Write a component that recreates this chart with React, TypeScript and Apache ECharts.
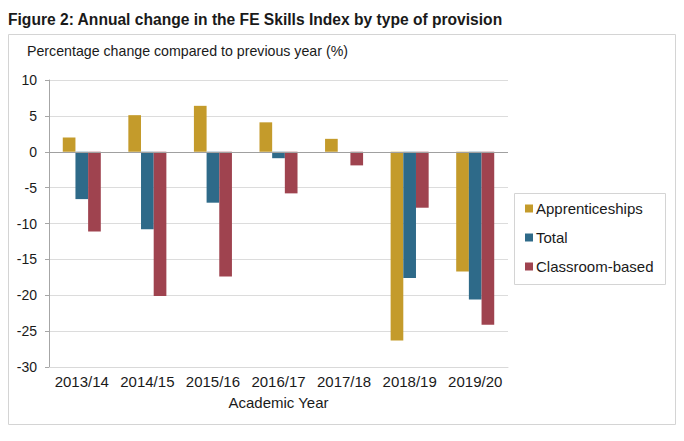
import React, { useEffect, useRef } from "react";
import * as echarts from "echarts";

const categories = ["2013/14", "2014/15", "2015/16", "2016/17", "2017/18", "2018/19", "2019/20"];
const apprenticeships = [2.0, 5.1, 6.4, 4.1, 1.8, -26.3, -16.7];
const total = [-6.6, -10.8, -7.1, -0.9, 0, -17.6, -20.6];
const classroom = [-11.1, -20.1, -17.4, -5.8, -1.9, -7.8, -24.1];
const yTicks = { min: -30, max: 10, interval: 5 };

const FONT = "'Liberation Sans', Arial, sans-serif";
const TEXT = "#1a1a1a";

export default function App() {
  const ref = useRef<HTMLDivElement>(null);
  useEffect(() => {
    if (!ref.current) return;
    const chart = echarts.init(ref.current, undefined, { renderer: "svg" });
    const barStyle = (color: string) => ({
      type: "bar" as const,
      barGap: "0%",
      barCategoryGap: "42%",
      itemStyle: { color },
    });
    chart.setOption({
      animation: false,
      backgroundColor: "#ffffff",
      textStyle: { fontFamily: FONT, color: TEXT },
      title: {
        text: "Figure 2: Annual change in the FE Skills Index by type of provision",
        left: 8,
        top: 11,
        padding: 0,
        textStyle: { fontFamily: FONT, fontSize: 15.6, fontWeight: "bold", color: TEXT },
      },
      graphic: [
        {
          type: "rect",
          shape: { x: 8.5, y: 34.5, width: 667, height: 390 },
          style: { fill: "none", stroke: "#d4d4d4", lineWidth: 1 },
          silent: true,
        },
        {
          type: "rect",
          shape: { x: 514.5, y: 193.5, width: 151, height: 91 },
          style: { fill: "none", stroke: "#d4d4d4", lineWidth: 1 },
          silent: true,
        },
        {
          type: "text",
          left: 27,
          top: 44,
          style: {
            text: "Percentage change compared to previous year (%)",
            fontFamily: FONT,
            fontSize: 14.2,
            fill: TEXT,
          },
          silent: true,
        },
      ],
      legend: {
        orient: "vertical",
        left: 525,
        top: 201,
        padding: 0,
        itemWidth: 8,
        itemHeight: 8,
        itemGap: 14,
        icon: "rect",
        textStyle: { fontFamily: FONT, fontSize: 15, color: TEXT, padding: [0, 0, 0, -2] },
        data: ["Apprenticeships", "Total", "Classroom-based"],
      },
      grid: { left: 49, right: 176, top: 80, bottom: 74, containLabel: false },
      xAxis: {
        type: "category",
        data: categories,
        name: "Academic Year",
        nameLocation: "middle",
        nameGap: 28,
        nameTextStyle: { fontFamily: FONT, fontSize: 15, color: TEXT },
        axisLine: { onZero: false, lineStyle: { color: "#d9d9d9" } },
        axisTick: { show: false },
        axisLabel: { interval: 0, fontFamily: FONT, fontSize: 15, color: TEXT, margin: 7 },
      },
      yAxis: {
        type: "value",
        min: yTicks.min,
        max: yTicks.max,
        interval: yTicks.interval,
        axisLine: { show: true, lineStyle: { color: "#a6a6a6" } },
        axisTick: { show: true, length: 4, lineStyle: { color: "#a6a6a6" } },
        axisLabel: { fontFamily: FONT, fontSize: 14, color: TEXT, margin: 12 },
        splitLine: { lineStyle: { color: "#dcdcdc" } },
      },
      series: [
        {
          ...barStyle("#c49b2b"),
          name: "Apprenticeships",
          data: apprenticeships,
          markLine: {
            silent: true,
            symbol: "none",
            label: { show: false },
            lineStyle: { color: "#a0a0a0", type: "solid", width: 1 },
            data: [{ yAxis: 0 }],
          },
        },
        { ...barStyle("#2e6a89"), name: "Total", data: total },
        { ...barStyle("#9f434f"), name: "Classroom-based", data: classroom },
      ],
    });
    return () => chart.dispose();
  }, []);
  return (
    <div
      ref={ref}
      style={{ position: "fixed", left: 0, top: 0, width: 684, height: 441 }}
    />
  );
}
